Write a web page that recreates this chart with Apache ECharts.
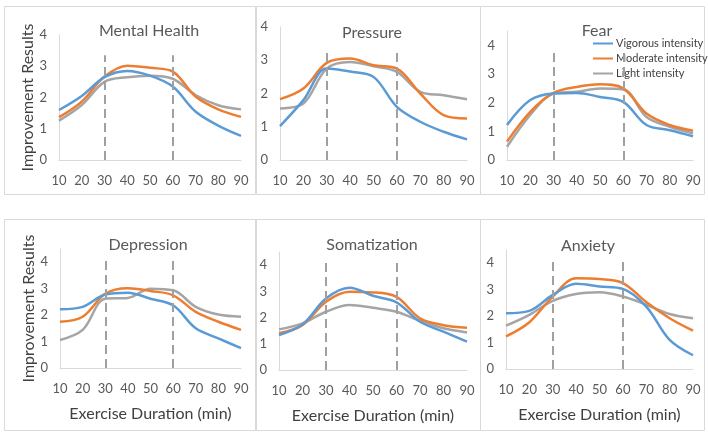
<!DOCTYPE html>
<html><head><meta charset="utf-8">
<script src="https://cdn.jsdelivr.net/npm/echarts@6/dist/echarts.min.js"></script>
<style>html,body{margin:0;padding:0;background:#fff}#c{width:708px;height:437px}</style>
</head><body><div id="c"></div>
<script>
const durations = ['10','20','30','40','50','60','70','80','90'];
const seriesNames = ['Vigorous intensity','Moderate intensity','Light intensity'];
const panelTitles = ['Mental Health','Pressure','Fear','Depression','Somatization','Anxiety'];
const yMax = [4, 4, 4.5, 4.5, 4.5, 4.5];
const dashTop = [3.35, 3.3, 3.8, 4.15, 4.2, 4.1];
const dashAt = ['30','60'];

const mentalVig   = [1.6, 2.05, 2.65, 2.85, 2.7, 2.35, 1.55, 1.1, 0.77];
const mentalMod   = [1.37, 1.87, 2.67, 3.02, 2.95, 2.83, 2.03, 1.62, 1.38];
const mentalLight = [1.26, 1.76, 2.5, 2.65, 2.7, 2.6, 2.08, 1.75, 1.62];

const pressureVig   = [1.02, 1.8, 2.75, 2.66, 2.5, 1.6, 1.15, 0.85, 0.62];
const pressureMod   = [1.83, 2.15, 2.92, 3.05, 2.85, 2.75, 2.0, 1.35, 1.25];
const pressureLight = [1.55, 1.7, 2.75, 2.95, 2.82, 2.65, 2.05, 1.95, 1.83];

const fearVig   = [1.22, 2.09, 2.32, 2.34, 2.2, 2.03, 1.22, 1.04, 0.83];
const fearMod   = [0.64, 1.68, 2.34, 2.55, 2.64, 2.5, 1.62, 1.22, 1.02];
const fearLight = [0.46, 1.57, 2.32, 2.38, 2.49, 2.46, 1.5, 1.16, 0.93];

const depressionVig   = [2.22, 2.31, 2.78, 2.85, 2.62, 2.37, 1.5, 1.12, 0.75];
const depressionMod   = [1.75, 1.94, 2.81, 3.02, 2.91, 2.75, 2.12, 1.75, 1.44];
const depressionLight = [1.06, 1.44, 2.62, 2.65, 3.0, 2.94, 2.31, 2.02, 1.94];

const somatVig   = [1.33, 1.74, 2.73, 3.14, 2.83, 2.58, 1.84, 1.46, 1.08];
const somatMod   = [1.4, 1.71, 2.6, 2.98, 2.96, 2.79, 1.97, 1.71, 1.61];
const somatLight = [1.55, 1.78, 2.22, 2.48, 2.37, 2.22, 1.87, 1.59, 1.43];

const anxietyVig   = [2.11, 2.2, 2.8, 3.22, 3.12, 3.03, 2.36, 1.1, 0.52];
const anxietyMod   = [1.23, 1.77, 2.74, 3.43, 3.4, 3.25, 2.53, 1.92, 1.45];
const anxietyLight = [1.64, 2.05, 2.58, 2.84, 2.9, 2.74, 2.43, 2.08, 1.92];

const panelData = [
  [mentalVig, mentalMod, mentalLight],
  [pressureVig, pressureMod, pressureLight],
  [fearVig, fearMod, fearLight],
  [depressionVig, depressionMod, depressionLight],
  [somatVig, somatMod, somatLight],
  [anxietyVig, anxietyMod, anxietyLight]
];

// layout (pixels)
const grids = [
  {left: 59, width: 182, top: 35, height: 125},
  {left: 280, width: 187, top: 27, height: 133},
  {left: 507, width: 186, top: 31, height: 129},
  {left: 60, width: 181, top: 249, height: 119},
  {left: 279, width: 188, top: 252, height: 118},
  {left: 506, width: 187, top: 250, height: 119}
];
const boxes = [
  [4, 6, 251, 188], [256, 6, 224, 188], [480, 6, 224, 188],
  [4, 219, 251, 211], [256, 219, 224, 211], [480, 219, 224, 211]
];
const titlePos = [[144, 18], [367, 20], [592, 18], [143, 232], [367, 232], [583, 233]];
const colors = ['#5B9BD5', '#ED7D31', '#A5A5A5'];
const FONT = 'Lato';
const txt = '#595959';

const option = {
  animation: false,
  textStyle: {fontFamily: FONT},
  color: colors,
  title: panelTitles.map((t, i) => ({
    text: t, left: titlePos[i][0], top: titlePos[i][1], textAlign: 'center',
    textStyle: {fontFamily: FONT, fontSize: 16, fontWeight: 'normal', color: txt}
  })),
  legend: {
    data: seriesNames, orient: 'vertical', left: 588, top: 33,
    icon: 'rect', itemWidth: 20, itemHeight: 2, itemGap: 4,
    textStyle: {fontFamily: FONT, fontSize: 11, color: '#404040', padding: [0,0,0,-2]}
  },
  graphic: boxes.map(b => ({
    type: 'rect', shape: {x: b[0] + 0.5, y: b[1] + 0.5, width: b[2], height: b[3]},
    style: {fill: null, stroke: '#D9D9D9', lineWidth: 1}, silent: true, z: -1
  })),
  grid: grids,
  xAxis: grids.map((g, i) => ({
    type: 'category', gridIndex: i, data: durations, boundaryGap: false,
    axisLine: {lineStyle: {color: '#D9D9D9', width: 1}},
    axisTick: {show: false},
    axisLabel: {interval: 0, color: txt, fontSize: 13, fontFamily: FONT, margin: 14},
    name: i >= 3 ? 'Exercise Duration (min)' : '',
    nameLocation: 'middle', nameGap: 38,
    nameTextStyle: {fontFamily: FONT, fontSize: 16, color: '#404040'}
  })),
  yAxis: grids.map((g, i) => ({
    type: 'value', gridIndex: i, min: 0, max: yMax[i], interval: 1,
    axisLine: {show: true, lineStyle: {color: '#D9D9D9', width: 1}},
    axisTick: {show: false}, splitLine: {show: false},
    axisLabel: {color: txt, fontSize: 13, fontFamily: FONT, margin: 12, showMaxLabel: yMax[i] === 4},
    name: (i === 0 || i === 3) ? 'Improvement Results' : '',
    nameLocation: 'middle', nameGap: 23, nameRotate: 90,
    nameTextStyle: {fontFamily: FONT, fontSize: 16, color: '#404040'}
  })),
  series: []
};

panelData.forEach((arr, p) => {
  arr.forEach((vals, k) => {
    const s = {
      type: 'line', name: seriesNames[k], xAxisIndex: p, yAxisIndex: p,
      data: vals, smooth: 0.35, symbol: 'none',
      lineStyle: {width: 2.5, color: colors[k]}, z: 3 - k
    };
    if (k === 0) {
      s.markLine = {
        silent: true, symbol: 'none', label: {show: false},
        lineStyle: {type: [9, 5], color: '#A0A0A0', width: 2},
        data: dashAt.map(d => [{coord: [d, 0]}, {coord: [d, dashTop[p]]}])
      };
    }
    option.series.push(s);
  });
});

const chart = echarts.init(document.getElementById('c'), null, {renderer: 'canvas'});
chart.setOption(option);
</script></body></html>
